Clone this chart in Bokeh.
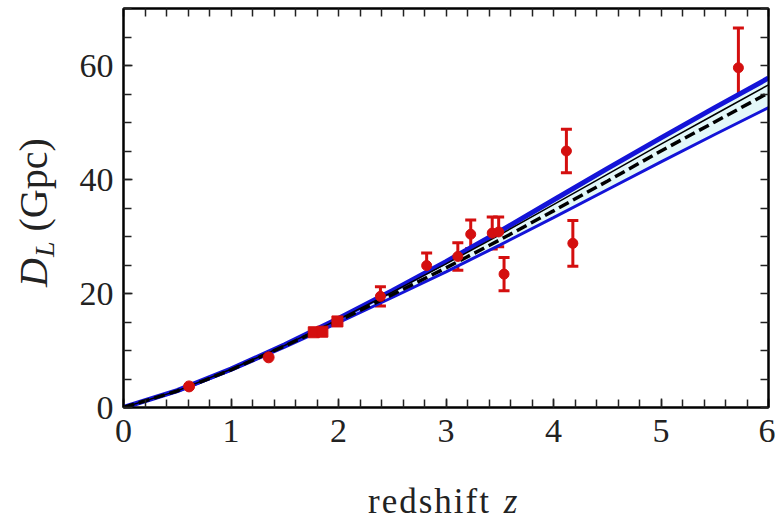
import numpy as np
from bokeh.plotting import figure
from bokeh.layouts import row, column
from bokeh.models import (ColumnDataSource, FixedTicker, LinearAxis, Range1d,
                          Whisker, TeeHead, Div)
from bokeh.embed import file_html
from bokeh.resources import INLINE

# ---- data ----
z_grid = [0, 0.5, 1, 1.5, 2, 2.5, 3, 3.5, 4, 4.5, 5, 5.5, 6]
dl_ref = [0, 2.9, 6.6, 10.8, 15.2, 19.8, 24.5, 29.4, 34.5, 39.7, 45.0, 50.1, 55.2]
dl_upper = [0, 2.95, 6.75, 11.0, 15.6, 20.5, 25.6, 30.9, 36.4, 41.9, 47.3, 52.6, 57.8]
dl_mid = [0, 2.92, 6.7, 10.9, 15.45, 20.25, 25.2, 30.3, 35.6, 40.9, 46.2, 51.4, 56.6]
dl_lower = [0, 2.85, 6.5, 10.6, 14.9, 19.3, 23.8, 28.5, 33.3, 38.2, 43.1, 47.9, 52.6]

z_err = [2.39, 2.82, 3.11, 3.23, 3.43, 3.49, 3.54, 4.12, 4.18, 5.72]
dl_err = [19.5, 24.9, 26.5, 30.4, 30.6, 30.8, 23.4, 45.0, 28.8, 59.6]
sig_err = [1.7, 2.2, 2.4, 2.5, 2.8, 2.6, 2.9, 3.8, 4.0, 7.0]

z_dot = [0.61, 1.35]
dl_dot = [3.7, 8.8]

z_sq = [1.77, 1.85, 1.99]
dl_sq = [13.2, 13.3, 15.1]

x_ticks = [0, 1, 2, 3, 4, 5, 6]
y_ticks = [0, 20, 40, 60]
x_minor = list(np.round(np.arange(0, 6.01, 0.2), 2))
y_minor = list(range(0, 71, 5))

x_label_text = "redshift"
x_label_var = "z"
y_label_var = "D"
y_label_sub = "L"
y_label_unit = "(Gpc)"

RED = "#d40f0f"
BLUE = "#1414d8"
FONT = "Liberation Serif"
INK = "#222222"

YLAB_W = 60
XLAB_H = 60
W, H = 775, 520

p = figure(width=W - YLAB_W, height=H - XLAB_H, output_backend="svg",
           toolbar_location=None,
           x_range=Range1d(0, 6), y_range=Range1d(0, 70),
           min_border_left=123 - YLAB_W, min_border_right=7, min_border_top=8,
           min_border_bottom=53,
           x_axis_location=None, y_axis_location=None, margin=0)
p.xgrid.visible = False
p.ygrid.visible = False
p.outline_line_color = "black"
p.outline_line_width = 2
p.background_fill_color = "white"
p.border_fill_color = "white"


def style(ax):
    ax.major_tick_in = 9
    ax.major_tick_out = 0
    ax.minor_tick_in = 8
    ax.minor_tick_out = 0
    ax.major_tick_line_width = 1.5
    ax.minor_tick_line_width = 1.5
    ax.axis_line_width = 2
    ax.major_tick_line_color = INK
    ax.minor_tick_line_color = INK
    ax.major_label_text_font = FONT
    ax.major_label_text_color = INK
    ax.major_label_text_font_size = "34px"


bx = LinearAxis(ticker=FixedTicker(ticks=x_ticks, minor_ticks=x_minor))
style(bx)
bx.major_label_standoff = 12
p.add_layout(bx, "below")
ly = LinearAxis(ticker=FixedTicker(ticks=y_ticks, minor_ticks=y_minor))
style(ly)
ly.major_label_standoff = 10
p.add_layout(ly, "left")

# mirrored ticks (no labels) on top and right
tx = LinearAxis(ticker=FixedTicker(ticks=[], minor_ticks=x_minor))
style(tx)
p.add_layout(tx, "above")
ry = LinearAxis(ticker=FixedTicker(ticks=[], minor_ticks=y_minor))
style(ry)
p.add_layout(ry, "right")

# band between the bounding curves
p.varea(x=z_grid, y1=dl_lower, y2=dl_upper, fill_color="#e3f8f9")
p.line(z_grid, dl_lower, line_color=BLUE, line_width=3)
p.line(z_grid, dl_upper, line_color=BLUE, line_width=5)
p.line(z_grid, dl_mid, line_color="black", line_width=1.5)
p.line(z_grid, dl_ref, line_color="black", line_width=3.5, line_dash="11 5")

# error bars
up = [d + s for d, s in zip(dl_err, sig_err)]
lo = [d - s for d, s in zip(dl_err, sig_err)]
src = ColumnDataSource(dict(z=z_err, d=dl_err, up=up, lo=lo))
wk = Whisker(base="z", upper="up", lower="lo", source=src, dimension="height",
             line_color=RED, line_width=3,
             upper_head=TeeHead(size=11, line_color=RED, line_width=3),
             lower_head=TeeHead(size=11, line_color=RED, line_width=3))
p.add_layout(wk)
p.scatter("z", "d", source=src, marker="circle", size=10, fill_color=RED, line_color=RED)
p.scatter(z_dot, dl_dot, marker="circle", size=11, fill_color=RED, line_color=RED)
p.scatter(z_sq, dl_sq, marker="square", size=11, fill_color=RED, line_color=RED)

# axis titles as real HTML text
ylab_html = (
    f'<div style="position:absolute; left:14px; top:287px; transform:rotate(-90deg); '
    f'transform-origin:left top; font-family:\'{FONT}\'; font-size:40px; line-height:1; '
    f'white-space:nowrap; color:{INK};">'
    f'<i>{y_label_var}</i><i style="font-size:28px; position:relative; top:7px; '
    f'margin-left:1px;">{y_label_sub}</i>&nbsp;{y_label_unit}</div>'
)
xlab_html = (
    f'<div style="position:absolute; left:368px; top:24px; font-family:\'{FONT}\'; '
    f'font-size:35px; line-height:1; white-space:nowrap; color:{INK};">'
    f'<span style="letter-spacing:2px;">{x_label_text}</span> '
    f'<i style="margin-left:4px;">{x_label_var}</i></div>'
)
ydiv = Div(text=ylab_html, width=YLAB_W, height=H - XLAB_H, margin=0,
           styles={"position": "relative", "overflow": "visible", "background": "white"})
xdiv = Div(text=xlab_html, width=W, height=XLAB_H, margin=0,
           styles={"position": "relative", "overflow": "visible", "background": "white"})

layout = column(row(ydiv, p, spacing=0, margin=0), xdiv, spacing=0, margin=0)

open("out.html", "w").write(file_html(layout, INLINE))
